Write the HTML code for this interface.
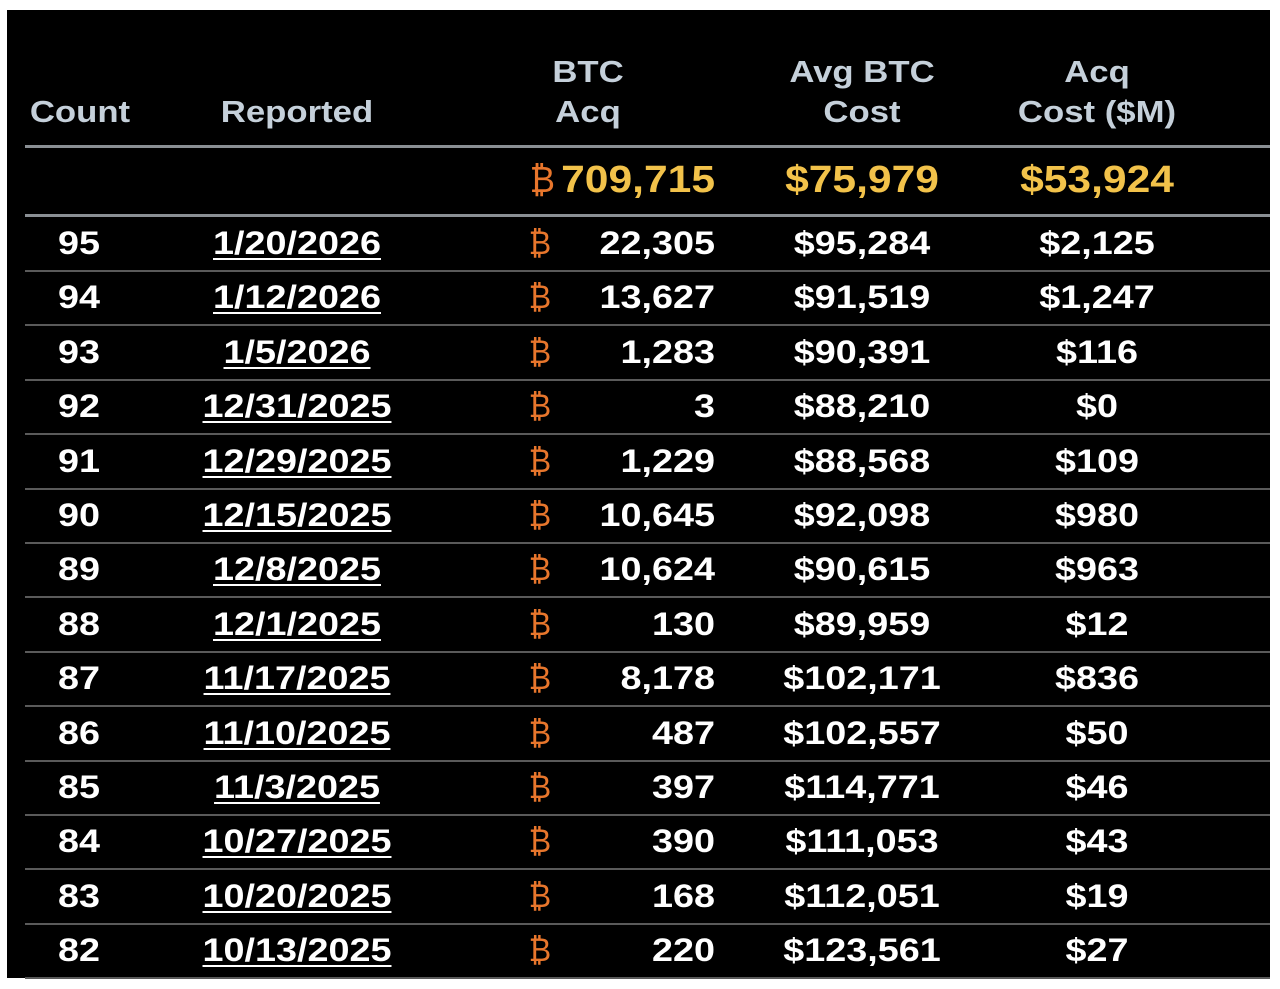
<!DOCTYPE html>
<html><head><meta charset="utf-8"><style>
body{margin:0;width:1280px;height:989px;background:#fff;position:relative;overflow:hidden;font-family:"Liberation Sans",sans-serif;}
#box{position:absolute;left:7px;top:10px;width:1263px;height:968px;background:#000;}
.t{position:absolute;font-size:32px;font-weight:bold;color:#fff;white-space:nowrap;line-height:34px;transform:scaleX(1.18);transform-origin:center;}
.c{text-align:center;}
.r{text-align:right;transform-origin:right;}
.h{color:#c5d0da;line-height:40px;font-size:31px;transform:scaleX(1.12);}
.g{color:#f2c24a;font-size:38px;line-height:40px;transform:scaleX(1.12);}
.o{color:#e8762c;font-weight:normal;transform:scaleX(0.95);}
.u{text-decoration:underline;text-decoration-thickness:2px;text-underline-offset:4px;}
.ln{position:absolute;left:25px;width:1245px;height:2px;background:#5a5a5a;}
.hl{height:3px;background:#8a8f94;}
</style></head><body>
<div id="box"></div>
<div class="t h c" style="left:10px;width:140px;top:92px">Count</div>
<div class="t h c" style="left:197px;width:200px;top:92px">Reported</div>
<div class="t h c" style="left:528px;width:120px;top:52px">BTC<br>Acq</div>
<div class="t h c" style="left:772px;width:180px;top:52px">Avg BTC<br>Cost</div>
<div class="t h c" style="left:997px;width:200px;top:52px">Acq<br>Cost ($M)</div>
<div class="ln hl" style="top:145px"></div>
<div class="t o" style="left:529px;top:160px;font-size:36px;line-height:40px">₿</div>
<div class="t g r" style="left:555px;width:160px;top:160px">709,715</div>
<div class="t g c" style="left:762px;width:200px;top:160px">$75,979</div>
<div class="t g c" style="left:997px;width:200px;top:160px">$53,924</div>
<div class="ln hl" style="top:214px"></div>
<div id="rows"></div>
<script>
var d=[["95","1/20/2026","22,305","$95,284","$2,125"],["94","1/12/2026","13,627","$91,519","$1,247"],["93","1/5/2026","1,283","$90,391","$116"],["92","12/31/2025","3","$88,210","$0"],["91","12/29/2025","1,229","$88,568","$109"],["90","12/15/2025","10,645","$92,098","$980"],["89","12/8/2025","10,624","$90,615","$963"],["88","12/1/2025","130","$89,959","$12"],["87","11/17/2025","8,178","$102,171","$836"],["86","11/10/2025","487","$102,557","$50"],["85","11/3/2025","397","$114,771","$46"],["84","10/27/2025","390","$111,053","$43"],["83","10/20/2025","168","$112,051","$19"],["82","10/13/2025","220","$123,561","$27"]];
var h="";
for(var i=0;i<d.length;i++){var c=243+i*54.4,t=c-17,r=d[i];
h+='<div class="t c" style="left:29px;width:100px;top:'+t+'px">'+r[0]+'</div>';
h+='<div class="t c u" style="left:197px;width:200px;top:'+t+'px">'+r[1]+'</div>';
h+='<div class="t o" style="left:528px;top:'+t+'px">₿</div>';
h+='<div class="t r" style="left:555px;width:160px;top:'+t+'px">'+r[2]+'</div>';
h+='<div class="t c" style="left:762px;width:200px;top:'+t+'px">'+r[3]+'</div>';
h+='<div class="t c" style="left:997px;width:200px;top:'+t+'px">'+r[4]+'</div>';
h+='<div class="ln" style="top:'+(c+27)+'px"></div>';}
document.getElementById("rows").innerHTML=h;
</script>
</body></html>
